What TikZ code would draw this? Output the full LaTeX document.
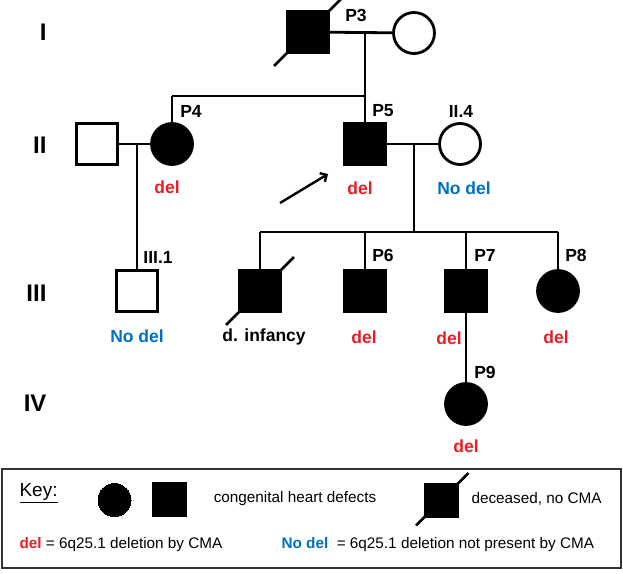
\documentclass[tikz,border=0pt]{standalone}
\usepackage{fontspec}
\setmainfont{Liberation Sans}
\usetikzlibrary{arrows.meta}
\definecolor{delred}{RGB}{235,28,36}
\definecolor{nodelblue}{RGB}{0,112,192}

\begin{document}
\begin{tikzpicture}[
  x=1pt, y=-1pt,
  male/.style={rectangle,draw,line width=2.8pt,minimum size=41pt,inner sep=0pt},
  female/.style={circle,draw,line width=2.8pt,minimum size=41pt,inner sep=0pt},
  aff/.style={fill=black},
  link/.style={line width=2.8pt},
  dead/.style={line width=2.8pt,shorten <=-17pt,shorten >=-17pt},
  genlbl/.style={font=\fontsize{24}{24}\selectfont\bfseries,anchor=east},
  pid/.style={font=\fontsize{17.5}{17.5}\selectfont\bfseries},
  resdel/.style={pid,text=delred},
  resnodel/.style={pid,text=nodelblue},
  legtext/.style={font=\fontsize{15.3}{15.3}\selectfont}
]

\useasboundingbox (0,0) rectangle (623,573);

% generations
\foreach \g/\y in {I/32,II/145,III/293,IV/403}
  \node[genlbl] (g\g) at (50,\y) {\g};

% I
\node[male,aff] (P3) at (308,32) {};
\node[female] (I2) at (414,33) {};
\draw[dead] (P3.south west) -- (P3.north east);
\coordinate (m1) at (365,32);
\coordinate (s1) at (365,96);
\coordinate (s1l) at (172,96);
\draw[link] (P3) -- (I2);
\draw[link] (m1) -- (s1);
\draw[link] (s1l) -- (s1);

% II
\node[male] (II1) at (97,144) {};
\node[female,aff] (P4) at (172,144) {};
\node[male,aff] (P5) at (365,144) {};
\node[female] (II4) at (460,144) {};
\draw[link] (s1l) -- (P4);
\draw[link] (s1) -- (P5);
\draw[link] (II1) -- (P4);
\draw[link] (P5) -- (II4);
\coordinate (m2) at (137,144);
\coordinate (m3) at (414,144);
\coordinate (s3) at (414,232);

\coordinate (arr1) at (280,203);
\coordinate (arr2) at (328,174);
\draw[line width=2.4pt,-{Straight Barb[length=5pt]}] (arr1) -- (arr2);

% III
\node[male] (III1) at (137,291) {};
\node[male,aff] (D1) at (260,291) {};
\node[male,aff] (P6) at (365,291) {};
\node[male,aff] (P7) at (466,291) {};
\node[female,aff] (P8) at (558,291) {};
\draw[dead] (D1.south west) -- (D1.north east);
\draw[link] (m2) -- (III1);
\draw[link] (m3) -- (s3);
\draw[link] (D1 |- s3) -- (P8 |- s3);
\foreach \n in {D1,P6,P7,P8}
  \draw[link] (\n |- s3) -- (\n);

% IV
\node[female,aff] (P9) at (466,404) {};
\draw[link] (P7) -- (P9);

% ids
\foreach \n/\x/\y/\t in {P3/356/15/P3,P4/191/111/P4,P5/383/111/P5,II4/461/111/II.4,
    III1/158/257/III.1,P6/383/255/P6,P7/485/255/P7,P8/576/255/P8,P9/485/372/P9}
  \node[pid] (l\n) at (\x,\y) {\t};

% results
\foreach \n/\x/\y in {P4/167/187,P5/360/188,P6/364/337,P7/449/338,P8/556/337,P9/466/446}
  \node[resdel] (r\n) at (\x,\y) {del};
\node[resnodel] (rII4) at (464,188) {No del};
\node[resnodel] (rIII1) at (137,336) {No del};
\node[pid] (rD1) at (264,337) {d. infancy};

% key
\draw[line width=1.2pt,black!80] (2,469) rectangle (621,568);
\node[legtext,font=\fontsize{19}{19}\selectfont,anchor=west] (kKey) at (16,493) {\underline{Key:}};
\node[female,aff,line width=0pt,minimum size=33pt] (kF) at (114.5,500) {};
\node[male,aff,line width=0pt,minimum size=34pt] (kM) at (169,499) {};
\node[legtext] (kChd) at (295,499) {congenital heart defects};
\node[male,aff,line width=0pt,minimum size=34pt] (kD) at (441.5,500) {};
\draw[dead,shorten <=-12pt,shorten >=-14pt] (kD.south west) -- (kD.north east);
\node[legtext,anchor=west] (kDec) at (468,499) {deceased, no CMA};
\node[legtext,anchor=west] (kDel) at (16,545) {\textcolor{delred}{\bfseries del} = 6q25.1 deletion by CMA};
\node[legtext,anchor=west] (kNoDel) at (278,545) {\textcolor{nodelblue}{\bfseries No del}\ \ = 6q25.1 deletion not present by CMA};

\end{tikzpicture}
\end{document}
